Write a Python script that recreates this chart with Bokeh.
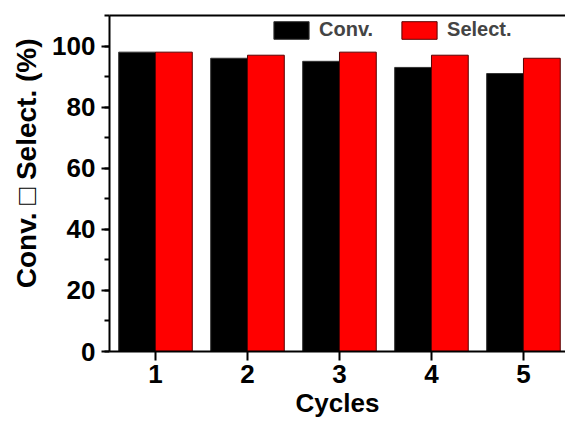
from bokeh.plotting import figure
from bokeh.models import (ColumnDataSource, FixedTicker, SingleIntervalTicker, LinearAxis,
                          Range1d, Legend, LegendItem, Title)
from bokeh.embed import file_html
from bokeh.resources import INLINE

cycles = [1, 2, 3, 4, 5]
conv = [98, 96, 95, 93, 91]
select = [98, 97, 98, 97, 96]
series_names = ["Conv.", "Select."]
x_tick_labels = ["1", "2", "3", "4", "5"]
y_title = "Conv. \u25a1 Select. (%)"
x_title = "Cycles"

FONT = "Liberation Sans"

p = figure(width=565, height=423, output_backend="svg", toolbar_location=None,
           x_range=Range1d(0.5, 5.457), y_range=Range1d(0, 110),
           min_border_left=109, min_border_top=15, min_border_bottom=72,
           min_border_right=0)
p.outline_line_color = None
p.grid.visible = False
p.background_fill_color = "white"
p.border_fill_color = "white"

src_c = ColumnDataSource(dict(x=[c - 0.2 for c in cycles], top=conv))
src_s = ColumnDataSource(dict(x=[c + 0.2 for c in cycles], top=select))
r1 = p.vbar(x="x", top="top", width=0.4, source=src_c, fill_color="black",
            line_color="#333333", line_width=1)
r2 = p.vbar(x="x", top="top", width=0.4, source=src_s, fill_color="#ff0000",
            line_color="#5a0000", line_width=1)

for ax in (p.xaxis[0], p.yaxis[0]):
    ax.axis_line_width = 2
    ax.major_tick_line_width = 2
    ax.minor_tick_line_width = 2
    ax.major_label_text_font = FONT
    ax.major_label_text_font_style = "bold"
    ax.major_label_text_font_size = "26px"
    ax.major_label_text_color = "black"
    ax.axis_label_text_font = FONT
    ax.axis_label_text_font_style = "bold"
    ax.axis_label_text_font_size = "26px"
    ax.axis_label_text_color = "black"
    ax.major_tick_in = 0

xa = p.xaxis[0]
xa.ticker = FixedTicker(ticks=cycles)
xa.major_label_overrides = {c: l for c, l in zip(cycles, x_tick_labels)}
xa.major_tick_out = 9
xa.minor_tick_out = 0
xa.minor_tick_in = 0
xa.major_label_standoff = 4
xa.axis_label = x_title
xa.axis_label_standoff = 2

ya = p.yaxis[0]
ya.ticker = SingleIntervalTicker(interval=20, num_minor_ticks=2)
ya.major_tick_out = 8
ya.minor_tick_out = 5
ya.minor_tick_in = 0
ya.major_label_standoff = 6

ytitle = Title(text=y_title, align="right", offset=23, standoff=16,
               text_font=FONT, text_font_style="bold", text_font_size="28px",
               text_color="black")
p.add_layout(ytitle, "left")

top_axis = LinearAxis(axis_line_width=2, major_tick_out=0, major_tick_in=0,
                      minor_tick_out=0, minor_tick_in=0,
                      major_label_text_font_size="0px", ticker=FixedTicker(ticks=[]))
p.add_layout(top_axis, "above")

legend = Legend(items=[LegendItem(label=series_names[0], renderers=[r1]),
                       LegendItem(label=series_names[1], renderers=[r2])],
                orientation="horizontal", location=(160, 310),
                glyph_width=44, glyph_height=22, label_standoff=6, spacing=24,
                padding=0, margin=0, border_line_color=None,
                background_fill_alpha=0, label_text_font=FONT,
                label_text_font_style="bold", label_text_font_size="20px",
                label_height=22)
p.add_layout(legend, "center")

open("out.html", "w").write(file_html(p, INLINE))
